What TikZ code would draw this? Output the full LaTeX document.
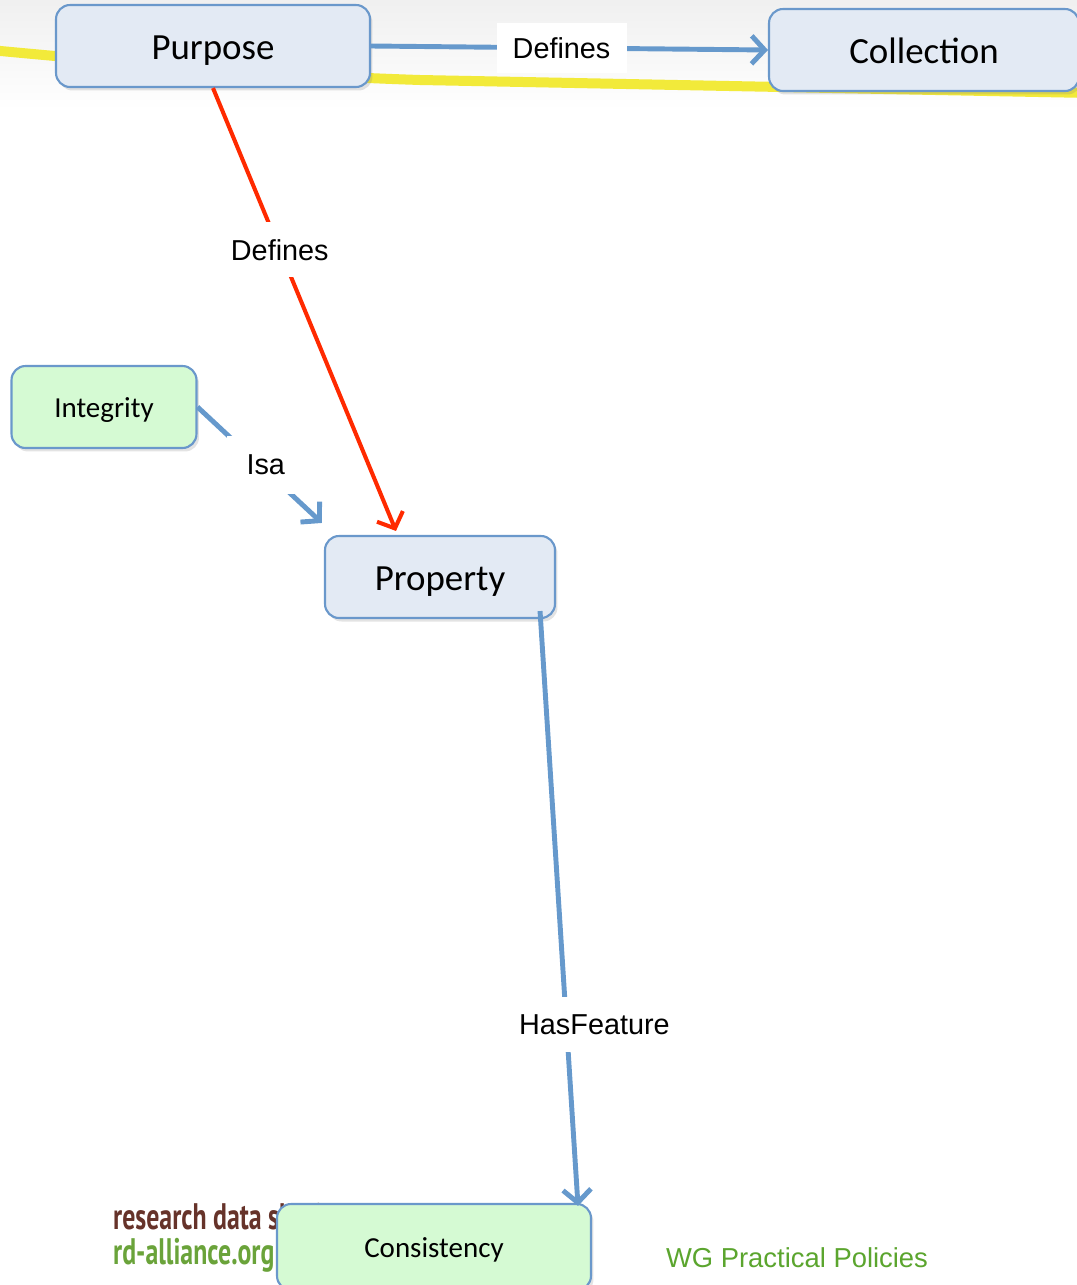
\documentclass[tikz,border=0pt]{standalone}
\usepackage{fontspec}
\setmainfont{Carlito}
\newfontfamily\arialfont{Liberation Sans}
\newfontfamily\logofont{PT Sans}
\usetikzlibrary{arrows.meta,shadows,calc}
\definecolor{boxblue}{HTML}{E3EAF4}
\definecolor{boxgreen}{HTML}{D5FAD3}
\definecolor{edgeblue}{HTML}{6A98CB}
\definecolor{linkblue}{HTML}{6699CC}
\definecolor{linkred}{HTML}{FF2A00}
\definecolor{hiyellow}{HTML}{F2EA3A}
\definecolor{logobrown}{HTML}{66332A}
\definecolor{logogreen}{HTML}{6AA33A}
\definecolor{wggreen}{HTML}{5BA52E}

\begin{document}
\begin{tikzpicture}[x=0.02cm, y=-0.02cm,
  box/.style={draw=edgeblue, line width=1.2pt, rounded corners=0.28cm, fill=boxblue,
    drop shadow={opacity=0.22, shadow xshift=0.05cm, shadow yshift=-0.07cm},
    minimum width=6.28cm, minimum height=1.64cm, text height=15.5pt, text depth=0pt,
    font=\fontsize{21}{25}\selectfont},
  smallbox/.style={box, fill=boxgreen, text height=12.5pt, font=\fontsize{16.5}{20}\selectfont},
  link/.style={draw=linkblue, line width=2.8pt, -{Straight Barb[length=0.26cm,width=0.56cm]}},
  redlink/.style={link, draw=linkred, line width=2.3pt},
  lbl/.style={fill=white, inner sep=0pt, minimum height=1.0cm, font=\arialfont\fontsize{16.4}{20}\selectfont},
  logo/.style={anchor=west, inner sep=0pt, xscale=0.7, font=\logofont\bfseries\fontsize{21}{24}\selectfont}
]
\useasboundingbox (0,0) rectangle (1077,1285);
\shade[top color=black!6, bottom color=white] (0,0) rectangle (1077,110);

% highlighter stroke behind the top row
\draw[hiyellow, line width=0.2cm, line cap=round] (-10,50) .. controls (180,68) and (300,76) .. (420,80) -- (1090,93);

% logo and footer
\node[logo, logobrown] (logo1) at (113,1220) {research data sharing};
\node[logo, logogreen] (logo2) at (113,1255) {rd-alliance.org};
\node[wggreen, font=\arialfont\fontsize{15.6}{19}\selectfont] (wg) at (797,1258) {WG Practical Policies};

\node[box] (purpose) at (213,46) {Purpose};
\node[box, minimum width=6.2cm] (coll) at (924,50) {Collection};
\node[smallbox, minimum width=3.7cm] (integ) at (104,407) {Integrity};
\node[box, minimum width=4.6cm] (prop) at (440,577) {Property};
\node[smallbox, minimum height=1.72cm] (cons) at (434,1247) {Consistency};

\draw[link] (purpose.east) -- (coll.west)
  node[lbl, pos=0.48, minimum width=2.6cm] {Defines};
\draw[redlink] (purpose.south) -- ($(prop.north west)+(72,-4)$)
  node[lbl, pos=0.365, minimum width=2.0cm, minimum height=1.1cm] {Defines};
\draw[link] (integ.east) -- ($(prop.north west)+(-2,-12)$)
  node[lbl, pos=0.5, xshift=0.12cm, minimum width=1.55cm, minimum height=1.15cm] {Isa};
\draw[link] ($(prop.south east)+(-16,-8)$) -- ($(cons.north east)+(-14,3)$)
  node[lbl, pos=0.695, xshift=0.56cm, minimum width=3.1cm, minimum height=1.1cm] {HasFeature};
\end{tikzpicture}
\end{document}
